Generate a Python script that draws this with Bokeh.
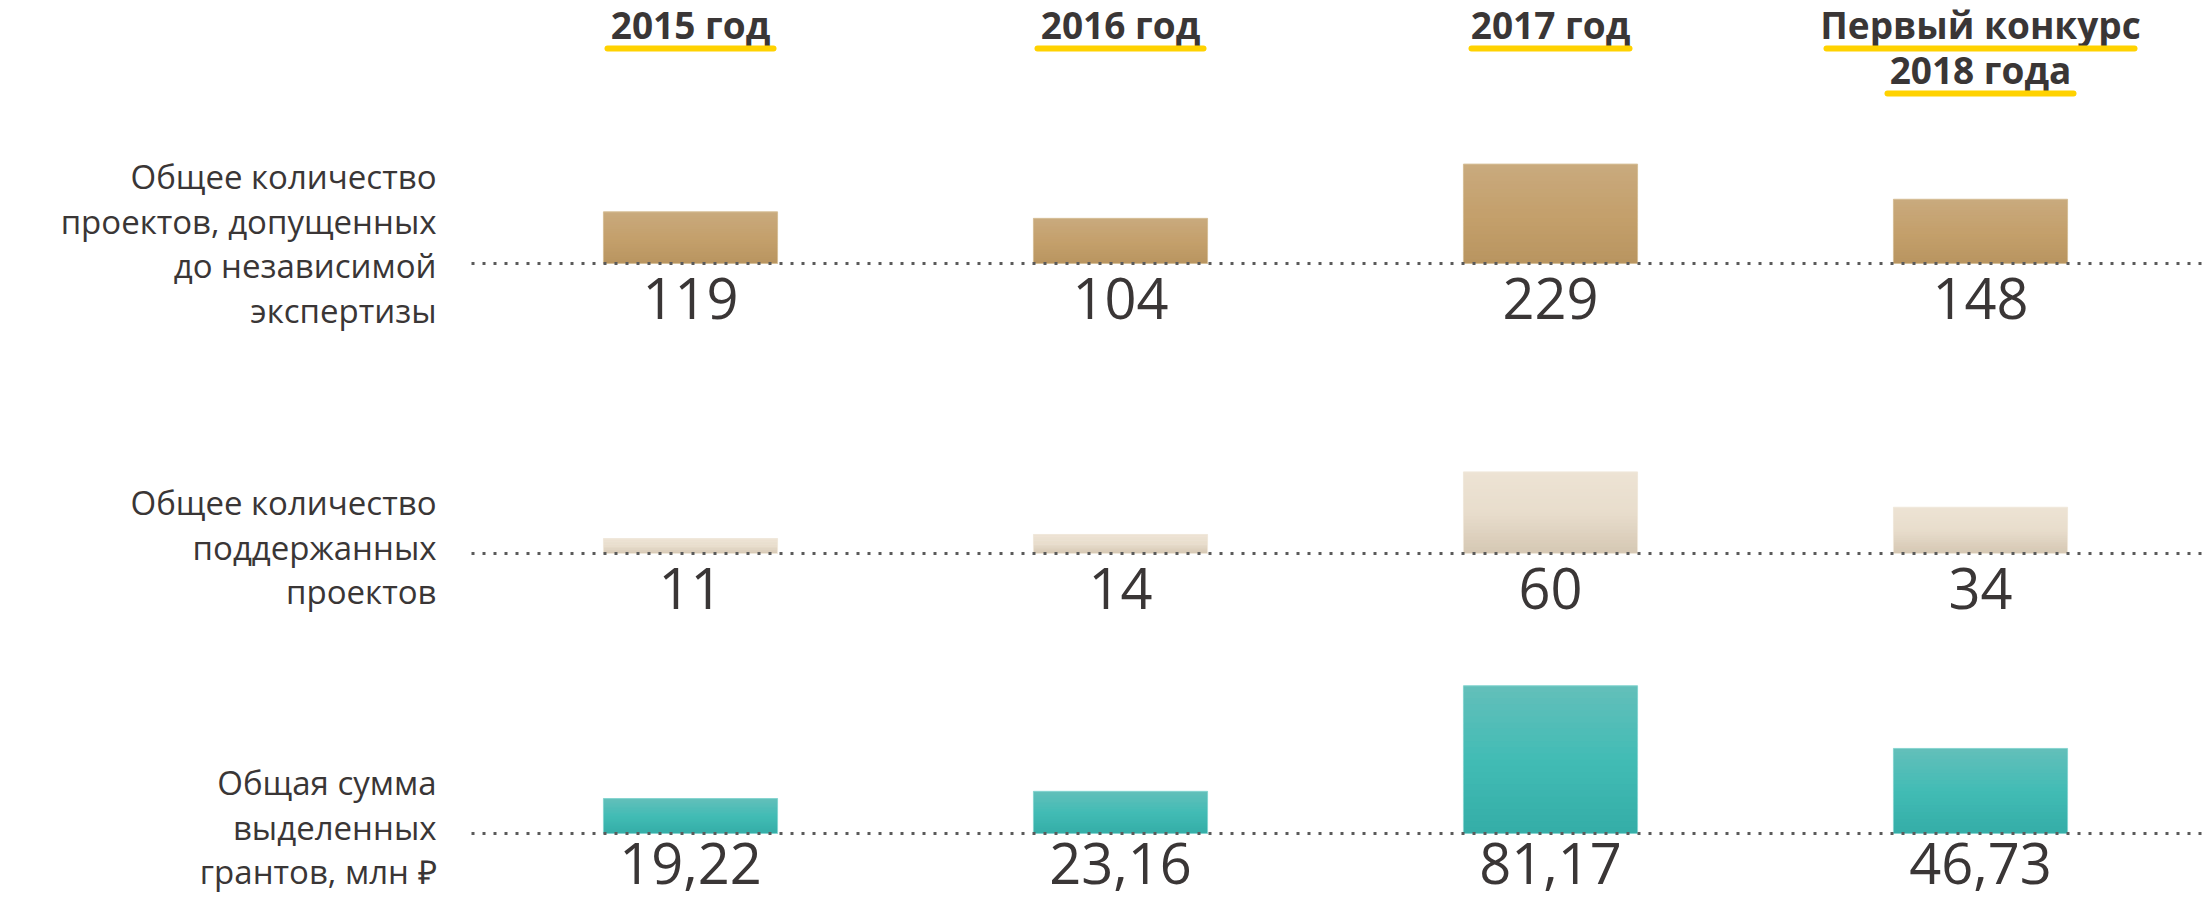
from bokeh.plotting import figure
from bokeh.models import Range1d
from bokeh.core.properties import value
from bokeh.embed import file_html
from bokeh.resources import INLINE

# ---------------- data ----------------
categories = ["2015 год", "2016 год", "2017 год", "Первый конкурс\n2018 года"]
admitted = [119, 104, 229, 148]
supported = [11, 14, 60, 34]
grants = [19.22, 23.16, 81.17, 46.73]
row_titles = [
    ["Общее количество", "проектов, допущенных", "до независимой", "экспертизы"],
    ["Общее количество", "поддержанных", "проектов"],
    ["Общая сумма", "выделенных", "грантов, млн ₽"],
]

# ---------------- layout / style ----------------
W, H = 2203, 899
COL0 = 690.0      # pixel x of first column centre
COLW = 430.0      # pixels per column
BAR_W = 0.405
baselines = [636, 346, 66]          # pixel y (from bottom) of each row baseline
scales = [0.434, 1.36, 1.82]        # pixels per unit for each row
label_drop = [35, 35, 30]           # value label distance below baseline
TEXT = "#3A3636"
FONT = value("Open Sans")
UNDERLINE_W = [[166], [166], [158], [308, 186]]

grad = [
    [(185, 149, 96), (196, 160, 108), (201, 170, 126)],
    [(213, 199, 179), (232, 221, 204), (237, 227, 212)],
    [(52, 173, 167), (66, 188, 181), (99, 191, 186)],
]
edges = ["#D6BF98", "#F0E8DB", "#86D5D0"]

p = figure(width=W, height=H, x_range=Range1d(-COL0 / COLW, (W - COL0) / COLW),
           y_range=Range1d(0, H), output_backend="svg", toolbar_location=None,
           x_axis_location=None, y_axis_location=None, min_border=0)
p.grid.visible = False
p.outline_line_color = None
p.background_fill_color = "white"
p.border_fill_color = "white"
p.extra_x_ranges = {"px": Range1d(0, W)}
for r, (b, s) in enumerate(zip(baselines, scales)):
    p.extra_y_ranges[f"r{r}"] = Range1d(-b / s, (H - b) / s)


def lerp(c0, c1, t):
    return "#%02x%02x%02x" % tuple(int(round(a + (bb - a) * t)) for a, bb in zip(c0, c1))


def grad_color(stops, t):
    if t < 0.5:
        return lerp(stops[0], stops[1], t / 0.5)
    return lerp(stops[1], stops[2], (t - 0.5) / 0.5)


rows = [admitted, supported, grants]
N = 24
for r, vals in enumerate(rows):
    L, R, B, T, C = [], [], [], [], []
    for i, v in enumerate(vals):
        for k in range(N):
            L.append(i - BAR_W / 2)
            R.append(i + BAR_W / 2)
            B.append(v * k / N)
            T.append(min(v, v * (k + 1.8) / N))
            C.append(grad_color(grad[r], (k + 0.5) / N))
    p.quad(left=L, right=R, bottom=B, top=T, fill_color=C, line_color=None,
           y_range_name=f"r{r}")
    p.quad(left=[i - BAR_W / 2 for i in range(len(vals))],
           right=[i + BAR_W / 2 for i in range(len(vals))],
           bottom=[0] * len(vals), top=vals, fill_color=None,
           line_color=edges[r], line_width=1, y_range_name=f"r{r}")
    # dotted baseline
    p.segment(x0=[471], x1=[W], y0=[0], y1=[0], line_color="#5A5A5A",
              line_width=3, line_dash="3 8", x_range_name="px",
              y_range_name=f"r{r}")
    # value labels
    if r == 2:
        txt = [f"{v:.2f}".replace(".", ",") for v in vals]
    else:
        txt = [str(v) for v in vals]
    p.text(x=list(range(len(vals))), y=[baselines[r] - label_drop[r]] * len(vals),
           text=txt, text_font=FONT, text_font_size="56px", text_align="center",
           text_baseline="middle", text_color=TEXT)
    # row titles
    lines = row_titles[r]
    top_line = baselines[r] + (87 if len(lines) == 4 else 51)
    p.text(x=[436] * len(lines), y=[top_line - 44.6 * j for j in range(len(lines))],
           text=lines, text_font=FONT, text_font_size="33px", text_align="right",
           text_baseline="middle", text_color=TEXT, x_range_name="px")

# headers with yellow underline
for i, cat in enumerate(categories):
    for j, line in enumerate(cat.split("\n")):
        y_text = H - 24 - 45 * j
        y_line = H - 48 - 45 * j
        p.text(x=[i], y=[y_text], text=[line], text_font=FONT, text_font_size="37px",
               text_font_style="bold", text_align="center", text_baseline="middle",
               text_color=TEXT)
        hw = UNDERLINE_W[i][j] / 2 / COLW
        p.segment(x0=[i - hw], x1=[i + hw], y0=[y_line], y1=[y_line],
                  line_color="#FFD200", line_width=6, line_cap="round")

open("out.html", "w").write(file_html(p, INLINE))
